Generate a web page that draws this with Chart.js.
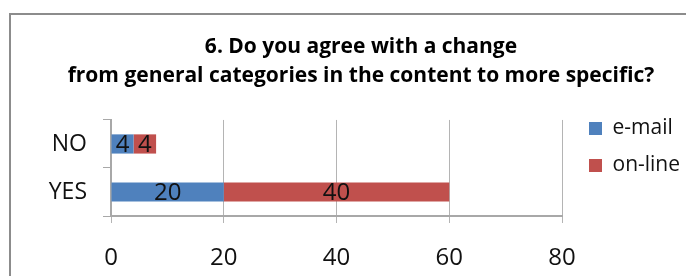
<!DOCTYPE html>
<html>
<head>
<meta charset="utf-8">
<script src="https://cdn.jsdelivr.net/npm/chart.js@4.4.1/dist/chart.umd.min.js"></script>
<style>
  html, body { margin: 0; padding: 0; background: #fff; overflow: hidden; }
  #wrap { position: relative; width: 686px; height: 276px; }
</style>
</head>
<body>
<div id="wrap"><canvas id="agreechart"></canvas></div>
<script>
  // Setup Block
  const answers = ['NO', 'YES'];
  const email_counts = [4, 20];
  const online_counts = [4, 40];
  const title_lines = ['6. Do you agree with a change', 'from general categories in the content to more specific?'];
  const x_max = 80;
  const x_step = 20;

  const data_agree = {
    labels: answers,
    datasets: [{
      label: 'e-mail',
      data: email_counts,
      backgroundColor: '#4F81BD'
    }, {
      label: 'on-line',
      data: online_counts,
      backgroundColor: '#C0504D'
    }]
  };

  // frame round the whole chart, like the office export
  const framePlugin = {
    id: 'frame',
    beforeDraw(chart) {
      const ctx = chart.ctx;
      ctx.save();
      ctx.fillStyle = '#fff';
      ctx.fillRect(0, 0, chart.width, chart.height);
      ctx.strokeStyle = '#8c8c8c';
      ctx.lineWidth = 2;
      ctx.strokeRect(10, 14, 800, 400);
      ctx.restore();
    }
  };

  // numbers in the middle of each bar piece
  const barLabels = {
    id: 'barLabels',
    afterDatasetsDraw(chart) {
      const ctx = chart.ctx;
      ctx.save();
      ctx.font = '24px "Open Sans"';
      ctx.fillStyle = '#111';
      ctx.textAlign = 'center';
      ctx.textBaseline = 'middle';
      chart.data.datasets.forEach((ds, i) => {
        chart.getDatasetMeta(i).data.forEach((bar, j) => {
          ctx.fillText(ds.data[j], (bar.x + bar.base) / 2, bar.y + 1);
        });
      });
      ctx.restore();
    }
  };

  // Config Block
  const config_agree = {
    type: 'bar',
    data: data_agree,
    plugins: [framePlugin, barLabels],
    options: {
      indexAxis: 'y',
      responsive: false,
      animation: false,
      layout: {
        padding: { left: 43, right: 7, top: 18, bottom: 0 }
      },
      datasets: {
        bar: { categoryPercentage: 0.8, barPercentage: 0.5 }
      },
      scales: {
        x: {
          stacked: true,
          min: 0,
          max: x_max,
          ticks: {
            stepSize: x_step,
            padding: 21,
            color: '#111',
            font: { family: 'Open Sans', size: 24 }
          },
          grid: { color: '#b4b4b4', tickLength: 7 },
          border: { color: '#a8a8a8', width: 2 },
          afterFit: s => { s.height = 60; }
        },
        y: {
          stacked: true,
          ticks: {
            padding: 16,
            color: '#111',
            font: { family: 'Open Sans', size: 23 }
          },
          grid: { drawOnChartArea: false, color: '#a8a8a8', tickLength: 8 },
          border: { color: '#a8a8a8', width: 2 },
          afterFit: s => { s.width = 68; }
        },
        gap: {
          position: 'right',
          type: 'linear',
          display: true,
          grid: { display: false },
          border: { display: false },
          ticks: { display: false },
          afterFit: s => { s.width = 11; }
        }
      },
      plugins: {
        title: {
          display: true,
          text: title_lines,
          color: '#000',
          font: { family: 'Open Sans', size: 21, weight: 'bold', lineHeight: 1.38 },
          padding: { top: 14.5, bottom: 29.5 }
        },
        legend: {
          position: 'right',
          align: 'center',
          labels: {
            boxWidth: 13,
            boxHeight: 13,
            padding: 16,
            color: '#111',
            font: { family: 'Open Sans', size: 21 }
          }
        },
        tooltip: { enabled: false }
      }
    }
  };

  // Render Block
  const canvas = document.getElementById('agreechart');
  canvas.width = 686;
  canvas.height = 276;
  let agreechart;
  Promise.all([
    document.fonts.load('21px "Open Sans"'),
    document.fonts.load('bold 21px "Open Sans"')
  ]).catch(() => {}).then(() => {
    agreechart = new Chart(canvas, config_agree);
  });
</script>
</body>
</html>
